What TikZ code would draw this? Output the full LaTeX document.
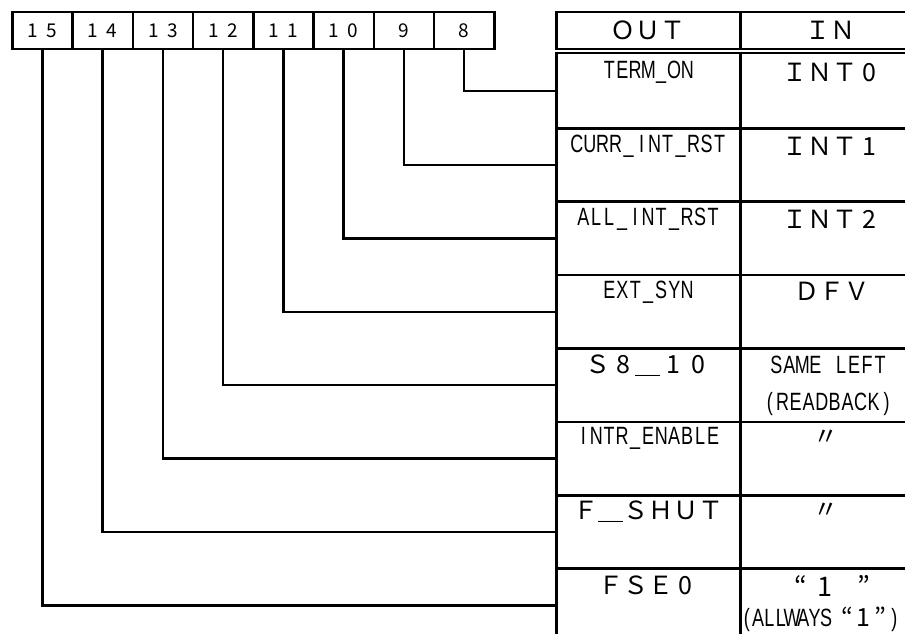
\documentclass[tikz,border=0pt]{standalone}
\usepackage{fontspec}
\newfontfamily\fwfont{Noto Sans CJK JP}
\newfontfamily\hwfont[FakeStretch=0.72]{Liberation Sans}
\newcommand\fwt{\fwfont\fontsize{25}{27}\selectfont}
\newcommand\hwt{\hwfont\fontsize{25}{39}\selectfont}
\newcommand\fd[1]{\makebox[1em][c]{#1}}
\makeatletter
\newcommand\mono[2][13pt]{\@tfor\mn@c:=#2\do{\makebox[#1][c]{\mn@c}}}
\makeatother
\begin{document}
\begin{tikzpicture}[x=1pt,y=-1pt,line width=2.5pt,
  bitcell/.style={draw,minimum width=60.25pt,minimum height=37pt,inner sep=0pt,anchor=north west,
    font=\fwfont\fontsize{19}{19}\selectfont},
  tcell/.style={draw,minimum width=184pt,inner sep=0pt,anchor=north west},
  lbl/.style={inner sep=0pt,anchor=center},
  conn/.style={line width=2.5pt}]
\useasboundingbox (0,0) rectangle (905,634);
\clip (0,0) rectangle (905,634);
% bit register
\node[bitcell] (b15) at (11,11) {\fd{1}\fd{5}};
\node[bitcell] (b14) at (71.25,11) {\fd{1}\fd{4}};
\node[bitcell] (b13) at (131.5,11) {\fd{1}\fd{3}};
\node[bitcell] (b12) at (191.75,11) {\fd{1}\fd{2}};
\node[bitcell] (b11) at (252,11) {\fd{1}\fd{1}};
\node[bitcell] (b10) at (312.25,11) {\fd{1}\fd{0}};
\node[bitcell] (b9) at (372.5,11) {\fd{9}};
\node[bitcell] (b8) at (432.75,11) {\fd{8}};
% table header
\node[tcell,minimum height=37pt] (hout) at (555,11) {};
\node[tcell,minimum height=37pt] (hin) at (739,11) {};
\node[lbl,font=\fwt] (tout) at (hout.center) {ＯＵＴ};
\node[lbl,font=\fwt] (tin) at ([xshift=-2pt]hin.center) {ＩＮ};
% table rows
\node[tcell,minimum height=75pt] (o0) at (555,52) {};
\node[tcell,minimum height=75pt] (n0) at (739,52) {};
\foreach \i in {1,...,7}{
  \node[tcell,minimum height=73.4pt] (o\i) at (555,{127+73.4*(\i-1)}) {};
  \node[tcell,minimum height=73.4pt] (n\i) at (739,{127+73.4*(\i-1)}) {};
}
% connectors
\draw[conn] (b8.south) |- (o0.west);
\draw[conn] (b9.south) |- (o1.west);
\draw[conn] (b10.south) |- (o2.west);
\draw[conn] (b11.south) |- (o3.west);
\draw[conn] (b12.south) |- (o4.west);
\draw[conn] (b13.south) |- (o5.west);
\draw[conn] (b14.south) |- (o6.west);
\draw[conn] (b15.south) |- (o7.west);
% OUT labels
\node[lbl,font=\hwt] (lo0) at ([yshift=-20pt]o0.north) {\mono{TERM\_ON}};
\node[lbl,font=\hwt] (lo1) at ([yshift=-19pt]o1.north) {\mono{CURR\_INT\_RST}};
\node[lbl,font=\hwt] (lo2) at ([yshift=-19pt]o2.north) {\mono{ALL\_INT\_RST}};
\node[lbl,font=\hwt] (lo3) at ([yshift=-18pt]o3.north) {\mono{EXT\_SYN}};
\node[lbl,font=\fwt] (lo4) at ([yshift=-18pt]o4.north) {Ｓ\fd{8}＿\fd{1}\fd{0}};
\node[lbl,font=\hwt] (lo5) at ([yshift=-18pt]o5.north) {\mono{INTR\_ENABLE}};
\node[lbl,font=\fwt] (lo6) at ([yshift=-18pt]o6.north) {Ｆ＿ＳＨＵＴ};
\node[lbl,font=\fwt] (lo7) at ([yshift=-18pt]o7.north) {ＦＳＥ\fd{0}};
% IN labels
\node[lbl,font=\fwt] (li0) at ([yshift=-20pt]n0.north) {ＩＮＴ\fd{0}};
\node[lbl,font=\fwt] (li1) at ([yshift=-19pt]n1.north) {ＩＮＴ\fd{1}};
\node[lbl,font=\fwt] (li2) at ([yshift=-19pt]n2.north) {ＩＮＴ\fd{2}};
\node[lbl,font=\fwt] (li3) at ([yshift=-18pt]n3.north) {ＤＦＶ};
\node[lbl,font=\hwt] (li4a) at ([xshift=-4pt,yshift=-18pt]n4.north) {\mono{SAME~LEFT}};
\node[lbl,font=\hwt] (li4b) at ([xshift=-4pt,yshift=-57pt]n4.north) {\mono{(READBACK)}};
\node[lbl,font=\fwt] (li5) at ([xshift=-6pt,yshift=-17pt]n5.north) {〃};
\node[lbl,font=\fwt] (li6) at ([xshift=-6pt,yshift=-17pt]n6.north) {〃};
\node[inner sep=0pt,anchor=west,font=\fwfont\fontsize{27}{27}\selectfont] (li7) at ([xshift=49pt,yshift=-19pt]n7.north west)
  {\makebox[24pt][c]{“}\makebox[24pt][c]{1}\makebox[54pt][c]{”}};
\node[inner sep=0pt,anchor=west,font=\hwt] (li7b) at ([xshift=1pt,yshift=-52pt]n7.north west)
  {\mono[11.3pt]{(ALLWAYS}\hspace{8pt}{\fwfont\fontsize{25}{25}\selectfont\makebox[15pt][c]{“}\makebox[17pt][c]{1}\makebox[17pt][c]{”}}\mono[11.3pt]{)}};
\end{tikzpicture}
\end{document}
